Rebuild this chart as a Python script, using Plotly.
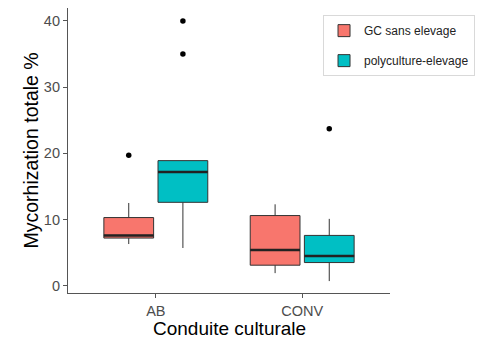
import plotly.graph_objects as go

categories = ["AB", "CONV"]
groups = ["GC sans elevage", "polyculture-elevage"]
colors = ["#F8766D", "#00BFC4"]

# box statistics per group, in category order
q1 = {"GC sans elevage": [7.2, 3.1], "polyculture-elevage": [12.6, 3.5]}
median = {"GC sans elevage": [7.6, 5.4], "polyculture-elevage": [17.2, 4.5]}
q3 = {"GC sans elevage": [10.3, 10.6], "polyculture-elevage": [18.9, 7.6]}
lowerfence = {"GC sans elevage": [6.3, 1.9], "polyculture-elevage": [5.7, 0.7]}
upperfence = {"GC sans elevage": [12.5, 12.3], "polyculture-elevage": [18.9, 10.1]}
outliers = {
    "GC sans elevage": [[19.7], []],
    "polyculture-elevage": [[40.0, 35.0], [23.7]],
}

y_ticks = [0, 10, 20, 30, 40]
x_title = "Conduite culturale"
y_title = "Mycorhization totale %"

dodge = [-0.185, 0.185]
box_w = 0.34

fig = go.Figure()
for gi, g in enumerate(groups):
    xs = [ci + 1 + dodge[gi] for ci in range(len(categories))]
    fig.add_trace(go.Box(
        x=xs, q1=q1[g], median=median[g], q3=q3[g],
        lowerfence=lowerfence[g], upperfence=upperfence[g],
        name=g, width=box_w, whiskerwidth=0,
        fillcolor=colors[gi], line=dict(color="#333333", width=1),
        boxpoints=False, legendgroup=g,
    ))
    # thicker median lines
    for ci, x in enumerate(xs):
        fig.add_trace(go.Scatter(
            x=[x - box_w / 2, x + box_w / 2], y=[median[g][ci]] * 2,
            mode="lines", line=dict(color="#222222", width=2.5),
            showlegend=False, hoverinfo="skip",
        ))
        if outliers[g][ci]:
            fig.add_trace(go.Scatter(
                x=[x] * len(outliers[g][ci]), y=outliers[g][ci],
                mode="markers", marker=dict(color="black", size=5.5),
                showlegend=False,
            ))

fig.update_layout(
    width=491, height=339,
    margin=dict(l=68, r=101, t=8, b=46),
    plot_bgcolor="white", paper_bgcolor="white",
    font=dict(family="Liberation Sans, Arial, sans-serif", size=14, color="black"),
    showlegend=True,
    legend=dict(
        x=0.792, y=0.975, xanchor="left", yanchor="top",
        bordercolor="#d9d9d9", borderwidth=1, bgcolor="white",
        font=dict(size=12, color="#222222"), tracegroupgap=11,
        entrywidth=124,
    ),
    xaxis=dict(
        range=[0.4, 2.6], tickmode="array",
        tickvals=[i + 1 for i in range(len(categories))], ticktext=categories,
        showline=True, linecolor="#555555", linewidth=1.2,
        ticks="outside", ticklen=4, tickcolor="#555555",
        tickfont=dict(size=14.5, color="#4d4d4d"),
        showgrid=False, zeroline=False, automargin=False,
    ),
    yaxis=dict(
        range=[-1.1, 41.96], tickvals=y_ticks,
        showline=True, linecolor="#555555", linewidth=1.2,
        ticks="outside", ticklen=4, tickcolor="#555555",
        tickfont=dict(size=14.5, color="#4d4d4d"),
        showgrid=False, zeroline=False, automargin=False,
    ),
    annotations=[
        dict(text=x_title, xref="paper", yref="paper", x=0.5, y=0,
             xanchor="center", yanchor="middle", yshift=-35, showarrow=False,
             font=dict(size=19, color="black")),
        dict(text=y_title, xref="paper", yref="paper", x=0, y=0.5,
             xanchor="center", yanchor="middle", xshift=-38, textangle=-90,
             showarrow=False, font=dict(size=19.5, color="black")),
    ],
)

fig.write_html("out.html", config={"displayModeBar": False},
               post_script="document.body.style.margin='0';document.body.style.overflow='hidden';")
